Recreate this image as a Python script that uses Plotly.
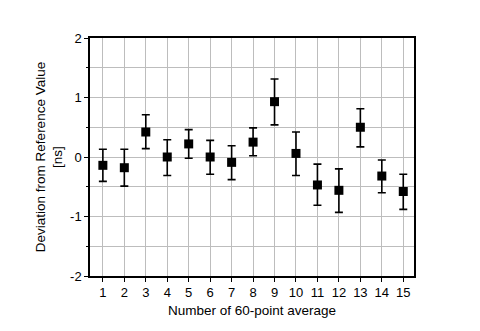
import plotly.graph_objects as go

# averages 1..15, deviation in ns, error bars
avg_no = list(range(1, 16))
deviation = [-0.14, -0.18, 0.42, 0.00, 0.22, 0.00, -0.09, 0.25, 0.93, 0.06, -0.47, -0.56, 0.50, -0.32, -0.58]
err_up = [0.27, 0.31, 0.29, 0.29, 0.24, 0.28, 0.28, 0.24, 0.38, 0.36, 0.35, 0.36, 0.31, 0.27, 0.29]
err_down = [0.27, 0.31, 0.28, 0.31, 0.24, 0.29, 0.29, 0.23, 0.39, 0.37, 0.34, 0.37, 0.33, 0.28, 0.30]
y_ticks = [-2, -1, 0, 1, 2]
y_labels = ["-2", "-1", "0", "1", "2"]

fnt = "Liberation Sans, Arial, sans-serif"

fig = go.Figure()
fig.add_trace(go.Scatter(
    x=avg_no, y=deviation, mode="markers",
    marker=dict(symbol="square", size=9, color="black"),
    error_y=dict(type="data", symmetric=False, array=err_up, arrayminus=err_down,
                 color="black", thickness=1.6, width=4),
    showlegend=False,
))

# page body has 8px default margin, so margins are trimmed to compensate
fig.update_layout(
    width=480, height=331,
    margin=dict(l=82, r=74, t=30, b=63),
    plot_bgcolor="white", paper_bgcolor="white",
    font=dict(family=fnt, size=13, color="black"),
)
fig.update_xaxes(
    range=[0.4, 15.5], tickvals=avg_no, ticks="outside", ticklen=4, tickcolor="black",
    showgrid=True, gridcolor="#bdbdbd", gridwidth=1,
    showline=True, linecolor="black", linewidth=1.5, mirror=True,
    zeroline=False,
    title=dict(text="Number of 60-point average", standoff=6, font=dict(size=13.5)),
)
fig.update_yaxes(
    range=[-2, 2], tickvals=y_ticks, ticktext=y_labels, ticks="outside", ticklen=4, tickcolor="black",
    showgrid=True, gridcolor="#bdbdbd", gridwidth=1,
    minor=dict(dtick=0.5, showgrid=True, gridcolor="#bdbdbd", ticks="outside", ticklen=2, tickcolor="black"),
    showline=True, linecolor="black", linewidth=1.5, mirror=True,
    zeroline=False,
    title=dict(text="Deviation from Reference Value<br>[ns]", standoff=4, font=dict(size=13.5)),
)

fig.write_html("out.html")
